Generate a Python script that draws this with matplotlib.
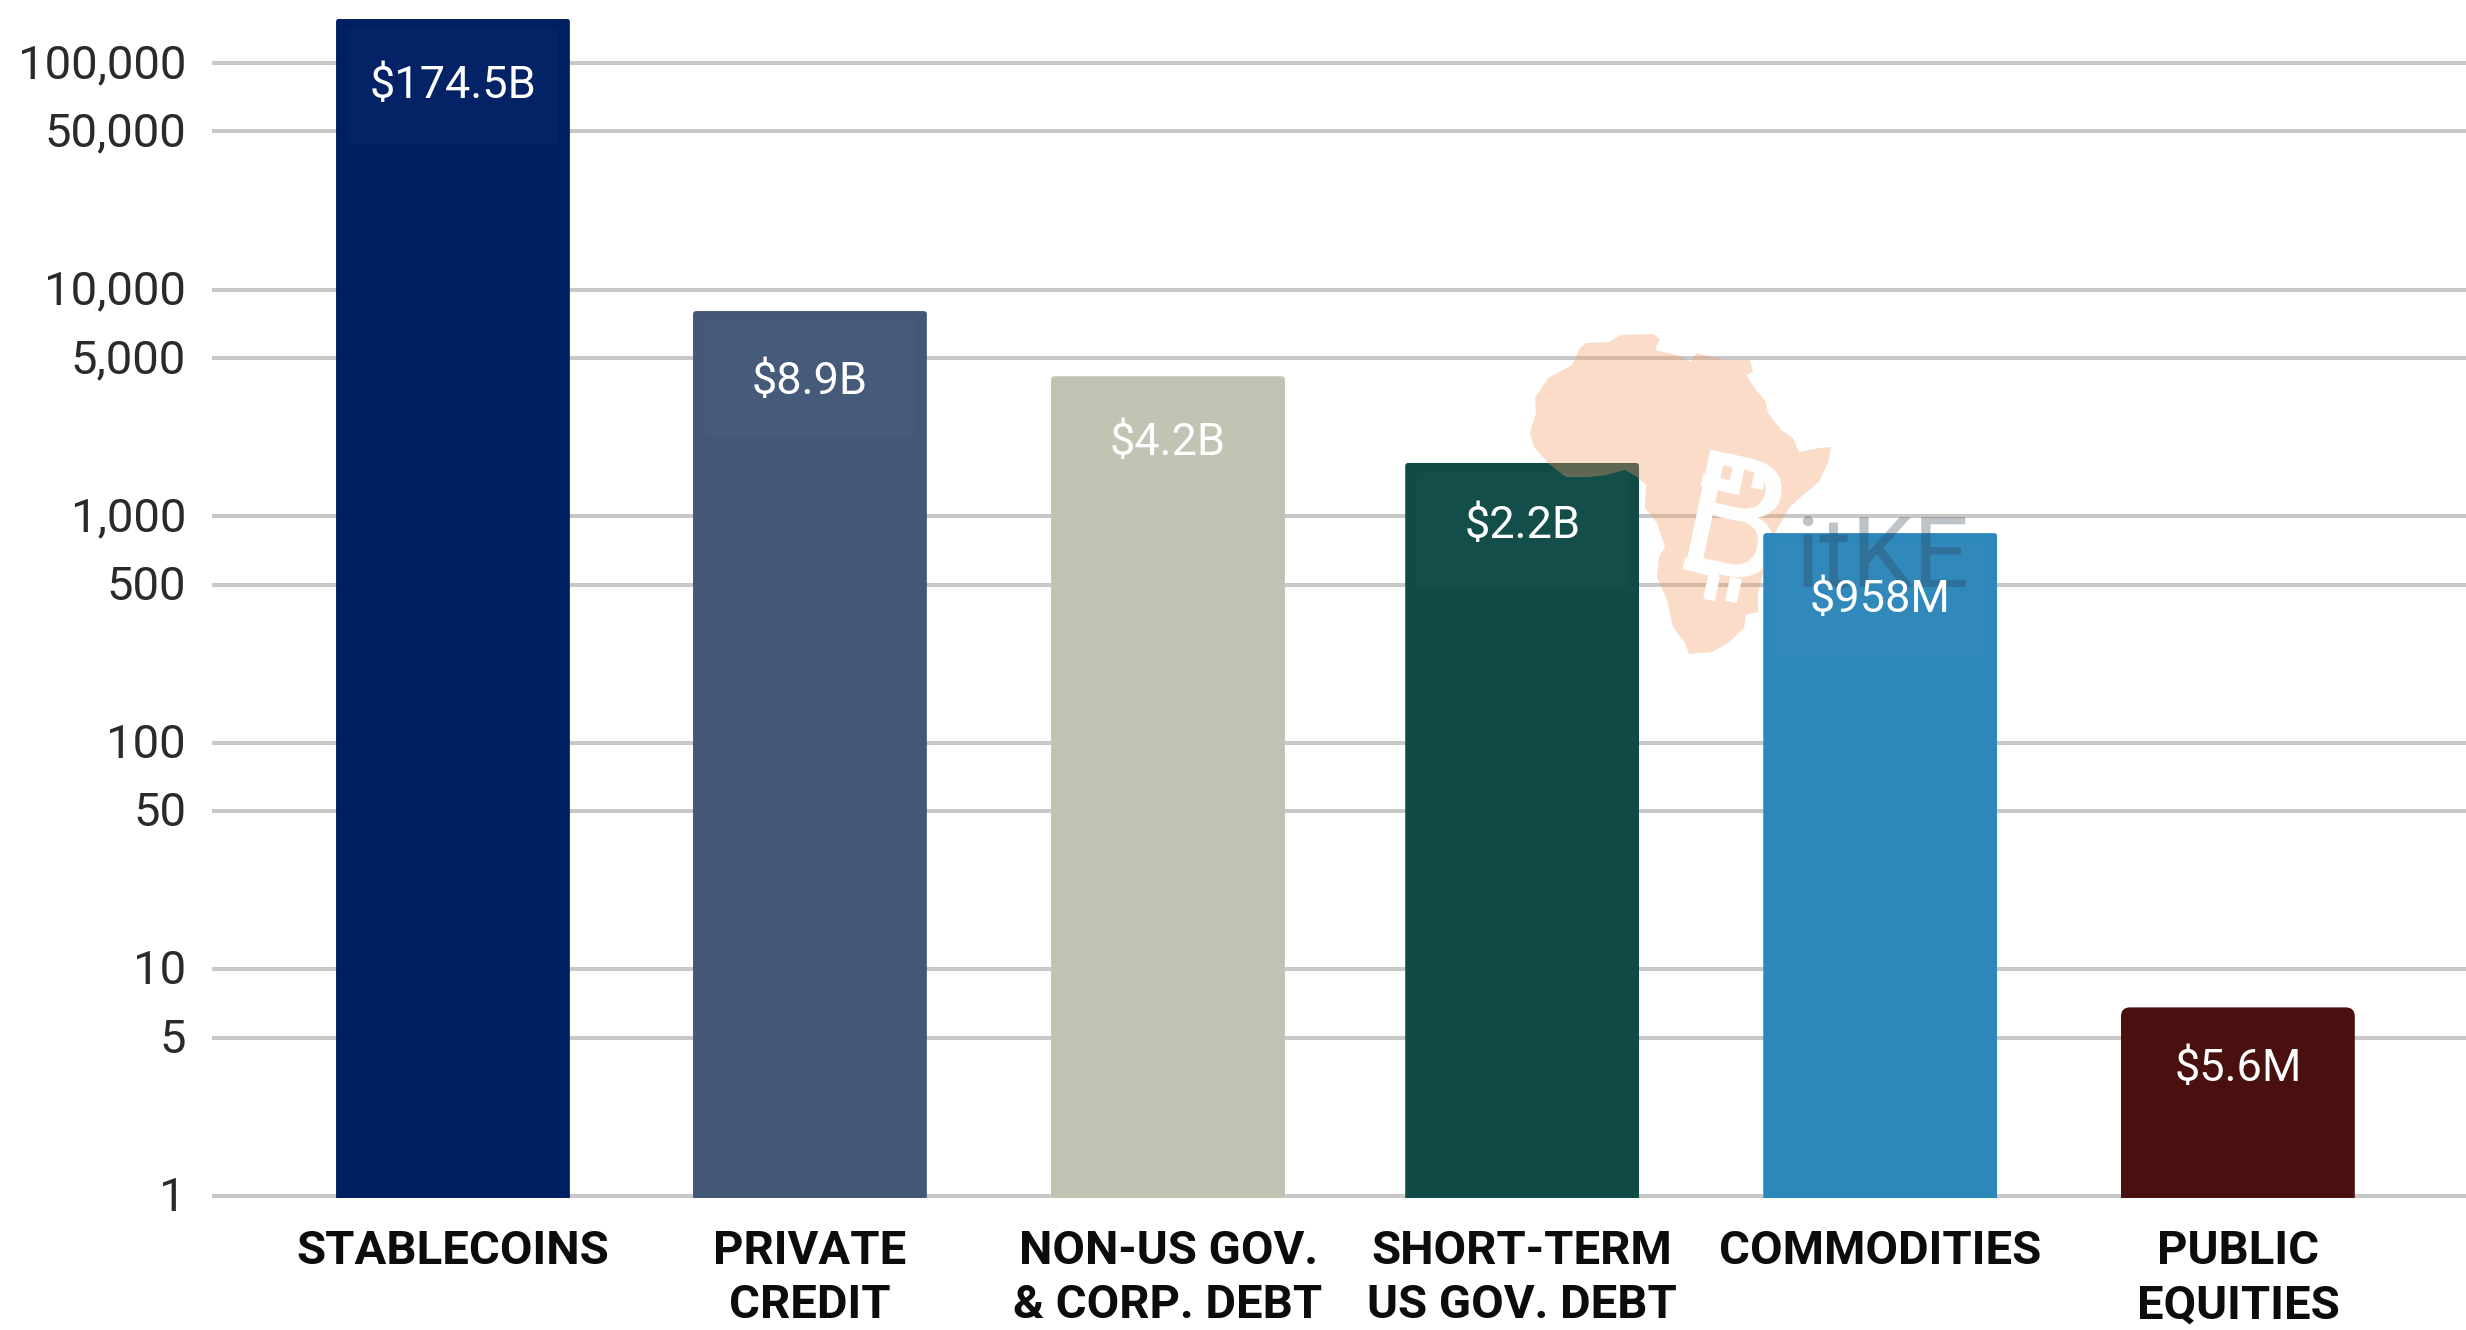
import matplotlib
matplotlib.use("Agg")
import matplotlib.pyplot as plt
from matplotlib.patches import FancyBboxPatch, Polygon, Rectangle
from matplotlib.transforms import IdentityTransform, ScaledTranslation

W, H = 2466, 1330

categories = ["STABLECOINS", "PRIVATE\nCREDIT", "NON-US GOV.\n& CORP. DEBT",
              "SHORT-TERM\nUS GOV. DEBT", "COMMODITIES", "PUBLIC\nEQUITIES"]
# bar heights
values = [157000, 8050, 4150, 1720, 843, 6.8]
value_labels = ["$174.5B", "$8.9B", "$4.2B", "$2.2B", "$958M", "$5.6M"]
colors = ["#001f63", "#435777", "#c0c2b2", "#104b47", "#2d87ba", "#4a100f"]
y_ticks = [1, 5, 10, 50, 100, 500, 1000, 5000, 10000, 50000, 100000]
y_tick_labels = ["1", "5", "10", "50", "100", "500", "1,000", "5,000", "10,000", "50,000", "100,000"]

# Africa outline of the watermark, in image pixels
africa_x = [1586, 1609, 1621, 1653, 1660, 1655, 1677, 1691, 1696, 1712, 1728, 1750, 1753, 1746,
            1756, 1766, 1768, 1781, 1793, 1799, 1819, 1831, 1829, 1819, 1803, 1789, 1775, 1766,
            1758, 1758, 1746, 1744, 1728, 1712, 1689, 1685, 1673, 1667, 1657, 1659, 1665, 1657,
            1645, 1646, 1637, 1625, 1606, 1590, 1566, 1550, 1534, 1530, 1536, 1535, 1548, 1572, 1580]
africa_y = [343, 342, 335, 334, 339, 350, 355, 362, 353, 357, 360, 360, 372, 375,
            390, 402, 413, 430, 438, 452, 448, 447, 460, 482, 495, 508, 533, 560,
            593, 612, 615, 628, 643, 652, 654, 643, 627, 600, 577, 557, 547, 523,
            508, 485, 477, 470, 475, 477, 477, 465, 447, 433, 413, 398, 378, 365, 348]

# layout: small shifts of the bars, distance of each value label under its bar top (px)
bar_pos = [0, 1, 2.003, 2.995, 3.998, 5]
label_drop = [67, 71, 67, 63.5, 67, 62]

plt.rcParams["font.family"] = ["Roboto", "DejaVu Sans"]

fig = plt.figure(figsize=(W / 100, H / 100), dpi=100, facecolor="white")
ax = fig.add_axes([212 / W, (H - 1198) / H, (W - 212) / W, 1198 / H])
ax.set_yscale("log")
ax.set_xlim(-0.675, 5.639)
ax.set_ylim(0.98, 190000)
for s in ax.spines.values():
    s.set_visible(False)

ax.hlines(y_ticks, -0.675, 5.639, color="#c8c8c8", lw=2.9, zorder=1)

bars = ax.bar(bar_pos, [v - 0.98 for v in values], bottom=0.98, width=0.655, color=colors, linewidth=0, zorder=2)
# the commodities bar sits above the watermark, the others under it
bars[4].set_zorder(5)

fig.canvas.draw()
radii = [3, 3, 3, 3, 3, 9]
for i, b in enumerate(bars):
    bb = b.get_window_extent()
    clip = FancyBboxPatch((bb.x0, bb.y0 - 40), bb.width, bb.height + 40,
                          boxstyle="round,pad=0,rounding_size=%d" % radii[i], transform=IdentityTransform())
    b.set_clip_path(clip)
    # slightly lighter box behind the value label
    if i < 5:
        box = Rectangle((bb.x0 + 12, bb.y1 - 125), bb.width - 24, 115, transform=IdentityTransform(),
                        facecolor="white", alpha=0.018, linewidth=0, zorder=b.get_zorder() + 0.5)
        fig.add_artist(box)
    ax.annotate(value_labels[i], (bar_pos[i], values[i]), xytext=(0, -label_drop[i] * 0.72),
                textcoords="offset points", ha="center", va="center", color="white", fontsize=32.5, zorder=8)

# watermark
land = Polygon([(a, H - b) for a, b in zip(africa_x, africa_y)], closed=True, transform=IdentityTransform(),
               facecolor="#f19b65", alpha=0.35, linewidth=0, zorder=3)
ax.add_patch(land)
ax.text(1732, H - 532, "B", transform=IdentityTransform(), fontsize=122, fontweight="normal", color="white",
        rotation=-12, ha="center", va="center", zorder=4)
for tx, ty in [(1740, 460), (1762, 465), (1714, 576), (1736, 578)]:
    ax.plot([tx, tx - 5], [H - ty, H - ty - 24], transform=IdentityTransform(), color="white", lw=8.6,
            solid_capstyle="butt", zorder=4)
for x0, y0, x1, y1 in [(1702, 480, 1740, 489), (1684, 563, 1720, 572)]:
    ax.plot([x0, x1], [H - y0, H - y1], transform=IdentityTransform(), color="white", lw=9,
            solid_capstyle="butt", zorder=4)
ax.text(1795, H - 587, "itKE", transform=IdentityTransform(), fontsize=71, fontweight="normal", color="#2a3a4a",
        alpha=0.3, ha="left", va="baseline", zorder=6)

ax.set_yticks(y_ticks)
ax.set_yticklabels(y_tick_labels, fontsize=34, color="#2a2a2a")
ax.minorticks_off()
ax.tick_params(axis="y", length=0, pad=18.7)
for lab in ax.get_yticklabels():
    lab.set_transform(lab.get_transform() + ScaledTranslation(0, 2.5 / 100, fig.dpi_scale_trans))
ax.set_xticks(bar_pos)
ax.set_xticklabels(categories, fontsize=34, fontweight="bold", color="#0c0c0c", linespacing=1.31)
ax.tick_params(axis="x", length=0, pad=22)

fig.savefig("out.png", dpi=100)
